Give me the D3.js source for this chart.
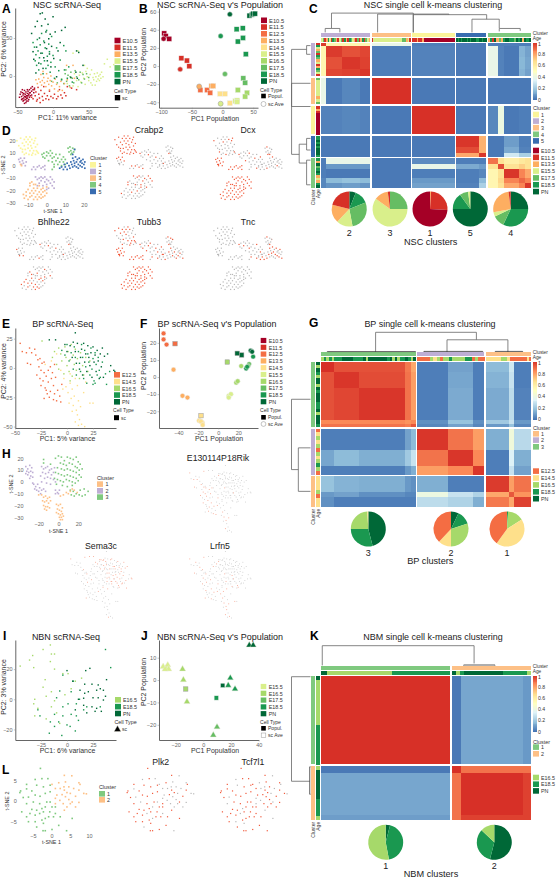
<!DOCTYPE html>
<html><head><meta charset="utf-8">
<style>body{margin:0;background:#fff}text{font-family:"Liberation Sans",Arial,sans-serif;fill:#222}</style>
<script src="https://cdn.jsdelivr.net/npm/d3@7/dist/d3.min.js"></script></head><body><div id="c"></div>
<script>
// ---------- colours and labels ----------
const ageCol={a:"#a50026",b:"#d73027",c:"#f46d43",d:"#fdae61",e:"#fee08b",f:"#d9ef8b",g:"#a6d96a",h:"#66bd63",i:"#1a9850",p:"#006837"};
const ageName={a:"E10.5",b:"E11.5",c:"E12.5",d:"E13.5",e:"E14.5",f:"E15.5",g:"E16.5",h:"E17.5",i:"E18.5",p:"PN"};
const Y="#fbf49a",P="#beaed4",O="#fdc086",G="#7fc97f",B="#386cb0";
// ---------- panel A: PCA of NSC cells, flat x,y lists ----------
const A_a=[-46,-24,-44,-27,-43,-22,-42,-25,-41,-29,-41,-23,-40,-27,-39,-31,-39,-24,-38,-28,-38,-21,-37,-26,-37,-33,-36,-23,-36,-29,-35,-26,-35,-20,-34,-31,-34,-24,-33,-28,-33,-18,-32,-22,-32,-26,-31,-16,-30,-20,-30,-25,-29,-14,-28,-18,-44,-31,-42,-33,-40,-36,-47,-28,-38,-35,-45,-21,-36,-18,-27,-22,-26,-16,-40,-19,-43,-18,-41,-32,-37,-30,-35,-33,-43,-30,-39,-27,-36,-26,-33,-22];
const A_b=[-28,-30,-25,-26,-24,-21,-22,-31,-20,-24,-19,-29,-17,-19,-15,-27,-14,-32,-12,-23,-10,-30,-8,-26,-6,-31,-5,-20,-3,-27,0,-29,2,-24,5,-30,7,-27,9,-18,11,-25,13,-29,16,-22,18,-26,20,-14,-13,-14,-26,-18,-21,-15,-18,-35,26,-16,33,-18,-30,-28,-23,-33];
const A_d=[-24,-5,-22,-10,-20,-4,-18,-8,-17,2,-16,-12,-15,-6,-14,6,-13,-2,-12,-9,-10,-14,-9,3,-8,-7,-7,-3,-6,-11,-5,-18,-4,-6,-3,0,-2,-13,0,-8,2,-17,3,-4,5,-11,7,-20,9,-14,11,-7,13,-19,16,-10,20,-5,24,-15,28,14,30,-3,19,14];
const A_f=[20,-10,25,-2,28,-13,30,3,33,-6,35,-14,37,1,39,-8,41,4,43,-3,45,-11,46,6,48,-1,50,-6,52,2,53,-9,54,8,56,-2,57,-5,58,3,59,-12,60,-1,61,-7,62,4,63,-4,64,0,65,-6,66,2,67,-3,68,5,70,-1,55,-12,48,10,44,14,72,16,80,12,85,15,76,22,35,33,28,30];
const A_h=[12,-4,15,-10,17,3,19,-7,21,1,23,-13,25,5,27,-3,29,-9,31,7,33,-1,36,-5,38,5,40,-9,42,2,44,-4,47,3,50,-2,18,8,24,-1,-2,-7,6,-9];
const A_i=[-28,44,-26,38,-25,20,-24,28,-23,14,-22,48,-21,33,-20,8,-19,24,-18,41,-17,16,-16,56,-15,30,-14,3,-13,46,-12,20,-11,37,-10,10,-9,60,-8,26,-7,14,-6,42,-5,32,-4,5,-3,18,-2,52,0,27,2,-3,3,12,5,37,8,7,10,21,12,-5,15,40,16,8,18,33,20,-3,22,12,27,-8];
const A_p=[-30,56,-28,32,-27,22,-25,65,-24,4,-23,38,-22,72,-20,17,-19,50,-18,82,-17,30,-16,66,-15,83,-14,10,-13,24,-12,44,-11,75,-10,58,-9,36,-8,20,-7,68,-6,49,-5,29,-4,55,-3,12,-2,39,0,78,1,23,3,58,5,-1,7,33,10,44,12,60,17,64,25,-2,32,5,33,33,36,31,34,-3,42,14];
// ---------- panel B: population (squares) and sc average (circles) ----------
const B_sq={a:[-95,36,-92.6,33,-86.7,30],b:[-67,8.5,-58,6,-54,-0.3],c:[-36,-26.5,-25,-26.5,-20,-29.5],d:[-18,-22,-15,-22],e:[-4,-30.6,4,-30.6,12,-41],f:[21,-38.7,24,-38,24,-39.4],g:[25,-26.5,40,-29.5,37,-33.7],h:[34,-13.6,37,-18.4],i:[23,40.5,33,41.6,25,27,33.4,31,38,13],p:[44,55.6,48,56.7,50,57.8,53,57.8]};
const B_ci={a:[-96,30],b:[-69,-3.7],d:[-38,-22.5],f:[-3,-41.6],h:[4,-8.8],i:[-3,33],p:[12,57]};
// ---------- panel D: t-SNE of NSC by cluster ----------
const D_1=[-16,20,-15,16,-14,22,-14,14,-13,18,-13,11,-12,21,-12,16,-11.5,13,-11,23,-11,19,-11,10,-10,17,-10,14,-10,21,-9.5,9,-9,23,-9,19,-9,12,-8.5,16,-8,21,-8,14,-7.5,10,-7,18,-7,12,-6.5,20,-6,15,-6,9,-5.5,12,-5,17,-5,11,-4.5,10,-12,9,-13,13,-8,8.5,-6,22];
const D_2=[-15,5,-14.5,3,-14,6,-13.5,1,-13,4,-12.5,2,-12,6,-11.5,0,-11,3,-8,-3,-7,-1,-6,-3,-5,-1,-4,0,-3,-2,-2,-1,-1,-3,-1,0,-6,-9,-5,-11,-4,-10,-4,-14,-3,-9,-3,-12,-2,-16,-2,-10,-1,-13,-1,-9,0,-11,0,-15,1,-18,1,-12,2,-9,2,-14,3,-11,3,-16,4,-13,4,-18,-5,-16,0,-19];
const D_3=[-12.5,-23,-12,-26,-11,-21,-11,-24,-10,-19,-10,-27,-9,-22,-9,-16,-9,-25,-8,-20,-8,-13,-8,-24,-7,-18,-7,-27,-7,-22,-6,-15,-6,-25,-6,-20,-5,-23,-5,-18,-5,-27,-4,-21,-4,-25,-4,-16,-3,-19,-3,-23,-3,-26,-2,-21,-2,-18,-1,-24,-1,-20,0,-22,0,-17,-14,1,-13.5,0,-9,-14,-7,-15,-2,-25];
const D_4=[-2.5,9,-2,7,-1.5,10,-1,6,0,11,0,8,1,4,1,10,2,12,2,8,3,6,3,3,3,10,4,7,4,1,4,-1,5,9,5,4,6,6,6,1,7,9,7,3,8,5,8,0,9,7,9,3,10,5,10,1,11.5,14,12,11,12.5,15,13,12,13.5,10,14,14,14.5,11,15,13,13,9,3,-3];
const D_5=[7,-2,8,-1,9,-3,9.5,1,10,-1,11,2,11,-3,12,0,12.5,-2,13,3,13.5,1,14,-1,14,6,14.5,4,15,2,15,0,15.5,7,16,-1,16,3,16.5,5,17,1,17,-2,17.5,6,18,3,18,0,18.5,4,19,-1,19,2,19.5,5,20,1,20.5,-2,20.5,3,14,9,15,13];
const crabp2Every=[1,2,7,9,0], dcxEvery=[5,1,1,6,8], bhlhe22Every=[0,7,2,9,0], tubb3Every=[2,1,1,3,3], tncEvery=[0,0,0,5,2];
// ---------- panel E: PCA of BP cells ----------
const E_c=[-45,21,-43,14,-39,13,-36,17,-34,13,-31,16,-38,4,-35,3,-28,7,-26,8,-24,4,-27,1,-25,-2,-22,5,-29,-6,-26,-9,-22,-4,-23,-11,-20,-7,-18,-2,-25,-15,-21,-17,-18,-12,-15,-9,-13,-15,-19,-22,-16,-20,-22,-26,-17,-25,-12,-22,-9,-19,-7,-24,-10,-28,-13,-27,-6,-29,-20,-19,-14,-4,-11,-8,-16,1,-30,11,-12,3,-5,-14];
const E_e=[-21,3,-15,6,-10,12,-6,-2,-3,-9,-1,-16,1,-21,3,-13,4,-26,2,-30,5,-18,7,-24,6,-32,8,-9,10,-15,11,-28,9,-36,5,-37,10,-40,12,-44,8,-46,11,-49,14,-48,17,-50,13,-33,16,-21,22,-30,25,-30,-4,-18,3,-5,18,-12];
const E_g=[-24,23,-14,9,-12,14,-10,3,-8,-1,-8,17,-6,12,-5,6,-3,-5,-2,18,-1,9,0,2,1,14,2,-3,3,7,4,20,5,-7,6,11,7,3,8,16,9,-2,10,8,12,-9,13,13,15,2,16,-6,18,9,20,-3,22,6,3,-11];
const E_i=[-5,15,-2,11,0,20,2,6,4,13,6,-1,7,18,8,9,9,-6,11,14,12,4,13,-3,14,20,15,9,16,-9,17,15,18,1,19,-13,20,12,21,5,22,-6,23,17,24,-1,25,8,26,-11,27,13,28,3,29,-6,30,9,31,-2,32,-8,25,-14,27,-13,34,5,37,-5,41,-3,38,-14];
const E_p=[-2,20,0,14,3,19,5,9,6,22,8,14,9,4,10,21,12,-1,13,9,14,16,15,-6,16,21,17,5,18,12,19,-3,20,19,21,9,22,2,23,13,24,-8,25,18,26,5,27,11,28,-3,29,15,30,6,31,-9,32,12,33,1,34,17,35,-8,36,10,39,12,42,2,45,-2,46,-3,8,30,-11,24,-17,24];
// ---------- panel F ----------
const F_ci={c:[-55,25.5,-55,22,-52,19],d:[-45,4.3,-36,-11,-31,-12],e:[-18.4,-25.7,-16,-26.7,-19.4,-25.5,-17.4,-26,-15.7,-28],f:[10.5,-11,12.7,-10,10.5,-12],g:[23,6.4,18,-3.3,19.5,-2.4],h:[31,7.6,30,6.4],i:[28,5,29,6,35,11.9],p:[32.5,15.4,34,14.8]};
const F_sq={c:[-43.5,19.5],e:[-17.4,-22.6],g:[9,8.8],p:[19,13.9,23.5,12.9]};
// ---------- panel H: t-SNE of BP by cluster ----------
const H_3=[-3,20,0,22,3,21,6,18,9,21,12,20,15,19,18,21,20,17,22,15,2,16,5,15,8,14,11,16,14,15,17,13,19,12,21,10,24,11,-1,12,3,11,6,10,9,11,12,10,15,9,18,8,21,6,23,4,-3,8,0,7,3,6,6,5,9,6,12,5,15,4,18,3,20,1,-4,3,-1,2,2,1,5,0,8,2,11,1,14,0,17,-1,-2,-2,4,-3,9,-4,14,-3,12,-7,15,-8,18,-10,21,-11,24,-12,27,-11,30,-8,16,-12,13,-11,26,-6,22,-7,-15,19,-15,16,-8,15];
const H_2=[-33,13,-31,11,-29,14,-27,12,-32,9,-30,8,-28,9,-26,8,-31,6,-28,5,-26,4,-29,3,-33,7,-17,13,-15,11,-13,12,-11,13,-9,10,-7,11,-16,8,-13,7,-10,8,-7,6,-5,8,-4,12,-18,5,-14,3,-11,4,-8,3,-5,2,-3,0,-17,0,-12,-1,-8,-2,-25,-2,-23,-4,-21,-2,-19,-5,-24,-6,-22,-7,-20,-8,-17,-7,-18,-10,-15,-6,-3,-7,-1,-9,1,-7,0,-10,-3,-10,-26,-1,-13,-8];
const H_1=[-17,-11,-15,-13,-13,-12,-11,-14,-9,-13,-16,-16,-14,-17,-12,-16,-10,-18,-8,-16,-15,-20,-13,-21,-11,-21,-9,-22,-14,-23,-12,-24,-2,-19,0,-20,2,-19,4,-22,-1,-23,1,-24,3,-25,-2,-26,0,-27,2,-28,4,-27,1,-30,3,-30,5,-29,2,-32,4,-32,8,-9,10,-10,12,-8,14,-6,16,-7,19,-9,5,-11,2,-12,-20,-11];
const rikEvery={c:2,e:4,g:9,i:0,p:0}, sema3cEvery={c:9,e:7,g:5,i:2,p:1.5}, lrfn5Every={c:3,e:2,g:9,i:8,p:0};
// ---------- panel I: PCA of NBN cells ----------
const I_g=[-45,22,-36,26,-33,29,-32,21,-23,33,-16,36,-12,30,-15,30,-16,25,-12,20,-4,17,1,17,-21,13,-31,0,-32,-3,-28,-6,-23,8,-20,2,-15,5,-31,-11,-20,-13,-12,-1,-10,-9,-2,3,-7,-16,8,12,14,14,4,7,-15,-5];
const I_i=[-28,-7,-26,-11,-16,-15,-17,-22.5,-12,-18,-5,-24,-8,-15,0,-17,3,-18,8,-21,-4,-11,4,-10,11,-14,9,-11,-12,-10,-4,-5,1,-3,-7,5.5,4,5,6,12,-10,1,9,-3,12,0,16,-7,19,-5,-4,16,37,33,42,21,32,-5];
const I_p=[18,19,22,20.5,17,10,24,10,30,9.5,38,13,12.5,6,20.5,5,28.5,6,32,7,16,0.7,25,1,30,1,35,-0.5,11,0,16,-4,24,-5,28.5,-6,33,-8,19,-9,27,-8,8,-7,0,19,35,6,5.5,12,17,4,37,2];
// ---------- panel J ----------
const J_tri={f:[-29,6,-27,5.2,-25.7,6.7,-25,4.9,-27.6,4.8],g:[-15,4.9,-14.4,0.1,-11.8,-9.7],h:[9.9,-21,7.2,-24.6],i:[19.5,0.9,18,-2.4,22.9,-4],p:[33.2,15.6,36,15.6]};
const J_sq={g:[-12.7,-4],i:[9.4,-8],p:[14,-2.4]};
// ---------- panel L: t-SNE of NBN by cluster ----------
const L_1=[-3,8,-4.4,5.3,-6.7,4.1,-8.3,2.5,-8.5,2.1,-6.7,3,-5.3,2.5,-4,3.9,-2.6,5.5,-1,5.5,-2.2,3.5,-0.4,3.9,-4.4,1.5,-6.2,1,-7.6,0.9,-3.1,1.2,-1.7,1.9,-0.4,2.3,-4.9,-0.2,-6.7,-0.6,-3.2,-0.6,-1.3,-0.2,-0.4,-0.2,-5.3,-2,-4,-2.2,-2.6,-1.8,-1.7,-1.4,0.1,-1.4,-8,-2.6,-5.8,-3,-4.4,-3.4,-3.2,-3,-2.2,-2.6,-0.5,-2.6,1,-1.4,1,-3,-6.2,-5,-4.4,-5,-2.6,-4.6,-1.7,-4.2,-0.8,-3.8,0.5,-3.8,-6.7,-3.8,-2.2,-5.4,-4,-6.3,-1.7,-7.2,-2.3,-7.2,0.1,-6.9,4,-7.2,5.5,-4.2,2.3,-3.8,1.9,-5.9];
const L_2=[3.4,6.3,5.4,6.2,0.1,4.1,1.9,4.5,3.7,4.7,7.3,4.5,7.6,4.1,1,3.1,2.3,3.1,3.4,2.7,4.6,3.5,5.9,3.1,7.3,2.7,8.6,1.9,9.3,1.8,4.1,2.1,5,1.9,1.4,1.5,2.8,1.6,1,0.7,3.7,1.1,6.4,1.2,2.2,0.2,4.6,0.4,5.5,-0.2,3.1,-0.6,7.3,-0.3,1,-0.6,4.1,-1.4,6.4,-1.4,3.4,-2.2,5,-0.6,3.3,3.5];
const plk2Every=[1.3,3], tcf7l1Every=[1.2,1.6];
// ---------- heatmaps: column/row block sizes, values, age strips, dendrogram merges ----------
const C_cols=[[14,48,55,30],[117],[128],[69,21],[29,19,44,20,16]];
const C_rows=[[10,32,38,20],[79],[86],[32,18,12],[18,15,27,13,15]];
const C_vals=[
[.98,.55,.55,.55,.38,.02,.01,.01,.02,.02,.02,.02,.02],
[.55,.98,.94,.96,.02,.03,.01,.01,.38,.03,.01,.14,.1],
[.55,.94,.99,.97,.02,.03,.01,.01,.38,.03,.01,.15,.11],
[.55,.96,.97,.99,.02,.03,.01,.01,.38,.03,.01,.14,.1],
[.38,.01,.04,.01,1,.01,.01,.01,.01,.01,.01,.01,.01],
[.03,.03,.04,.03,.01,1,.01,.01,.04,.4,.01,.02,.02],
[.01,.01,.01,.01,.01,.01,.99,.76,.01,.01,.09,.02,.02],
[.01,.01,.01,.01,.01,.01,.95,.76,.01,.01,.12,.03,.03],
[.01,.01,.01,.01,.01,.01,.78,.99,.01,.01,.3,.22,.22],
[.02,.38,.38,.38,.01,.05,.02,.02,.88,.65,.58,.62,.65],
[.02,.08,.08,.08,.01,.38,.12,.09,.65,.95,.65,.7,.65],
[.02,.01,.01,.01,.01,.02,.02,.04,.55,.65,.99,.85,.78],
[.04,.16,.18,.16,.01,.08,.02,.16,.55,.68,.85,.9,.85],
[.04,.07,.09,.07,.01,.1,.03,.22,.55,.65,.78,.85,.99]];
const C_colCl=[P,O,Y,B,G], C_rowCl=[P,O,Y,B,G];
const C_colAge=["fhbdifbihdbfhbidbihfdbhbdibhfd","bfffffffffffffffffffhhhdfb","bbbdbbbdaaaaaaaaaaaaaaaaaaaaa","pipipppipipppiippipp","dibpdhdippiihpipdpip"];
const C_rowAge=["bifdhbihdfbdihfb","hffffffdfh","bbdbaaaaaaaaaaa","iipipipppi","idphipidfdip"];
const C_topD=[[.05,.44,.98,.22,0],[.27,.61,.93,0,.9],[.44,.79,.9,0,.67],[.72,.85,.67,0,.22],[.02,.09,.2,0,0],[.85,.95,.2,.05,.08]];
const C_leftD=[[.046,.77,.97,.2,.58],[.28,.44,.97,0,0],[.70,.83,.58,.2,.2],[.02,.08,.2,0,0],[.66,.74,.2,0,0],[.81,.98,.2,0,0]];
const C_pies=[{name:"2",v:{p:6,i:13,h:28,f:15,d:17,b:21}},{name:"3",v:{b:2,h:25,f:60,d:13}},{name:"1",v:{a:74,b:25,d:1}},{name:"5",v:{p:75,i:15,h:8,f:2}},{name:"4",v:{p:25,i:32,h:11,f:4,d:26,b:2}}];

const G_cols=[[40,74,138,17,15],[93,73,35],[70,14,51]];
const G_rows=[[28,50,95,12,9],[64,48,26],[46,15,32]];
const G_vals=[
[1,.94,.94,.87,.78,.02,.1,.02,.16,.3,.02],
[.94,.99,.95,.88,.8,.02,.11,.02,.14,.28,.02],
[.94,.96,.99,.88,.8,.02,.12,.02,.12,.26,.03],
[.84,.84,.84,.82,.84,.06,.18,.06,.2,.28,.08],
[.88,.88,.88,.86,.93,.04,.1,.04,.08,.18,.04],
[.02,.02,.02,.1,.16,.99,.88,.8,.13,.42,.25],
[.11,.16,.13,.2,.28,.88,.99,.84,.02,.33,.13],
[.02,.02,.02,.08,.13,.8,.84,.99,.02,.28,.1],
[.18,.14,.13,.08,.06,.13,.02,.02,.98,.8,.88],
[.08,.1,.06,.04,.04,.4,.28,.23,.78,.93,.82],
[.06,.02,.02,.02,.02,.26,.23,.13,.87,.78,.97]];
const G_colCl=[G,P,O], G_rowCl=[G,P,O];
const G_colAge=["gigigiiippppiiiipgpppppppipgpgiipigp","ccccgegcggiggggiicgcc","eeeeeeegggeccccccccec"];
const G_rowAge=["pgpigppgpipppiipgpppi","cegegcgegigc","eeegcee"];
const G_topD=[[.26,.74,1,0,.62],[.6,.89,.62,0,0],[.03,.45,.02,0,0],[.49,.77,.03,0,0],[.83,.96,.03,0,0]];
const G_leftD=[[.255,.74,1,0,.64],[.59,.89,.64,0,0]];
const G_pies=[{name:"3",v:{p:46,i:29,g:24,e:1}},{name:"2",v:{p:7,i:13,g:30,e:12,c:38}},{name:"1",v:{i:1,g:15,e:44,c:40}}];

const K_cols=[[388],[28,187,22]];
const K_rows=[[266],[20,127,16]];
const K_vals=[[1,.01,.11,.08],[.01,1,.88,.88],[.11,.88,1,.97],[.09,.88,.97,.97]];
const K_colCl=[G,O], K_rowCl=[G,O];
const K_colAge=["pggggggggggiiiiiiiii","pgippppppppppiiiiiig"];
const K_rowAge=["pggggggggggiiiiiiiii","gpppppppiiiig"];
const K_topD=[[.006,.73,1,0,.1],[.68,.83,.02,0,0]];
const K_leftD=[[.007,.73,1,0,.04],[.63,.82,.04,0,0]];
const K_pies=[{name:"1",v:{p:4,i:43,g:53}},{name:"2",v:{p:54,i:33,g:13}}];

// ---------- helpers ----------
const svg=d3.select("#c").append("svg").attr("width",557).attr("height",878);
const pairs=f=>d3.range(0,f.length,2).map(i=>[f[i],f[i+1]]);
function txt(x,y,s,size,o={}){const fs=size<=8.5?size*1.12:size;const t=svg.append("text").attr("x",x).attr("y",y).attr("font-size",fs).attr("text-anchor",o.anchor||"start").text(s);
  if(o.bold)t.attr("font-weight","bold");if(o.fill)t.style("fill",o.fill);if(o.rot)t.attr("transform",`rotate(${o.rot} ${x} ${y})`);return t;}
function axes(sx,sy,xt,yt,line=true,off=0){
  const gx=svg.append("g").attr("transform",`translate(0,${sy.range()[0]+off})`).call(d3.axisBottom(sx).tickValues(xt).tickSize(line?1.5:0).tickPadding(1.3).tickSizeOuter(0));
  const gy=svg.append("g").attr("transform",`translate(${sx.range()[0]},0)`).call(d3.axisLeft(sy).tickValues(yt).tickSize(line?1.5:0).tickPadding(1.3).tickSizeOuter(0));
  [gx,gy].forEach(g=>{g.selectAll("text").attr("font-size",5.5).style("fill","#666");g.selectAll(".tick line").attr("stroke","#888").attr("stroke-width",.5);
    g.select(".domain").attr("stroke",line?"#555":"none").attr("stroke-width",.9);});
}
function squares(pts,sx,sy,fill,s=1.6,o={}){svg.append("g").selectAll("rect").data(pts).join("rect").attr("x",d=>sx(d[0])-s/2).attr("y",d=>sy(d[1])-s/2).attr("width",s).attr("height",s).attr("fill",d=>typeof fill==="function"?fill(d):fill).attr("stroke",o.stroke||"none").attr("stroke-width",o.sw||0);}
function circles(pts,sx,sy,fill,r=2.5,stroke="#ddd"){svg.append("g").selectAll("circle").data(pts).join("circle").attr("cx",d=>sx(d[0])).attr("cy",d=>sy(d[1])).attr("r",r).attr("fill",fill).attr("stroke",stroke).attr("stroke-width",.5);}
function tris(pts,sx,sy,fill,sz=20){svg.append("g").selectAll("path").data(pts).join("path").attr("d",d3.symbol(d3.symbolTriangle,sz)).attr("transform",d=>`translate(${sx(d[0])},${sy(d[1])})`).attr("fill",fill).attr("stroke","#e8e8d8").attr("stroke-width",.4);}
function swatches(x,ys,cols,labs,size=5.4,w=6,tx=8.5){ys.forEach((y,i)=>{svg.append("rect").attr("x",x).attr("y",y-w/2).attr("width",w).attr("height",w-.4).attr("fill",cols[i]);txt(x+tx,y+2,labs[i],size,{fill:"#333"});});}
const seq=(a,n,d)=>d3.range(n).map(i=>a+i*d);
function ageLegend(x,y0,d,keys,o={}){swatches(x,seq(y0,keys.length,d),keys.map(k=>ageCol[k]),keys.map(k=>ageName[k]),o.size||5.2,o.w||6,o.tx||8.5);}
const heatCol=d3.scaleLinear().domain([0,1/6,2/6,3/6,4/6,5/6,1]).range(["#4575b4","#91bfdb","#e0f3f8","#ffffbf","#fee090","#fc8d59","#d73027"]);

function heatmap(c){
  const layout=(blocks,a,b,gap)=>{const tot=d3.sum(blocks.flat());const sc=d3.scaleLinear([0,tot],[a,b-gap*(blocks.length-1)]);let u=0,out=[];
    blocks.forEach((bl,bi)=>{bl.forEach(s=>{out.push({a:sc(u)+bi*gap,b:sc(u+s)+bi*gap,block:bi});u+=s;});});return out;};
  const cols=layout(c.cols,c.x0,c.x1,1.4), rows=layout(c.rows,c.y0,c.y1,1.5);
  const cells=svg.append("g").attr("shape-rendering","crispEdges");
  rows.forEach((r,i)=>cols.forEach((k,j)=>cells.append("rect").attr("x",k.a).attr("y",r.a).attr("width",k.b-k.a).attr("height",r.b-r.a).attr("fill",heatCol(c.vals[i][j]))));
  const ext=(arr,bi)=>{const f=arr.filter(d=>d.block===bi);return [f[0].a,f[f.length-1].b];};
  const strips=svg.append("g").attr("shape-rendering","crispEdges");
  c.cols.forEach((_,bi)=>{const [a,b]=ext(cols,bi);
    strips.append("rect").attr("x",a).attr("y",c.topCl[0]).attr("width",b-a).attr("height",c.topCl[1]).attr("fill",c.colCl[bi]);
    const s=c.colAge[bi];const w=(b-a)/s.length;[...s].forEach((ch,i)=>strips.append("rect").attr("x",a+i*w).attr("y",c.topAge[0]).attr("width",w+.1).attr("height",c.topAge[1]).attr("fill",ageCol[ch]));});
  c.rows.forEach((_,bi)=>{const [a,b]=ext(rows,bi);
    strips.append("rect").attr("x",311).attr("y",a).attr("width",4.1).attr("height",b-a).attr("fill",c.rowCl[bi]);
    const s=c.rowAge[bi];const w=(b-a)/s.length;[...s].forEach((ch,i)=>strips.append("rect").attr("x",316).attr("y",a+i*w).attr("width",4).attr("height",w+.1).attr("fill",ageCol[ch]));});
  // dendrograms
  const fx=d3.scaleLinear([0,1],[c.x0,c.x1]), fy=d3.scaleLinear([0,1],[c.y0,c.y1]);
  const hTop=d3.scaleLinear([0,1],[c.topCl[0]-.3,c.topH]), hLeft=d3.scaleLinear([0,1],[310.5,c.leftH]);
  const ln=d3.line();
  c.topD.forEach(s=>svg.append("path").attr("d",ln([[fx(s[0]),hTop(s[3])],[fx(s[0]),hTop(s[2])],[fx(s[1]),hTop(s[2])],[fx(s[1]),hTop(s[4])]])).attr("fill","none").attr("stroke",s[2]<.05?"#333":"#666").attr("stroke-width",.8));
  c.leftD.forEach(s=>svg.append("path").attr("d",ln([[hLeft(s[3]),fy(s[0])],[hLeft(s[2]),fy(s[0])],[hLeft(s[2]),fy(s[1])],[hLeft(s[4]),fy(s[1])]])).attr("fill","none").attr("stroke",s[2]<.05?"#333":"#666").attr("stroke-width",.8));
  // labels beside strips
  txt(532.7,c.topCl[0]+2,"Cluster",4.3,{fill:"#333"});txt(532.7,c.topAge[0]+2.4,"Age",4.3,{fill:"#333"});
  txt(315,c.y1+1.5,"Cluster",4.5,{rot:-90,anchor:"end",fill:"#333"});txt(320,c.y1+1.5,"Age",4.5,{rot:-90,anchor:"end",fill:"#333"});
  // colour bar
  const barY=d3.scaleLinear([0,1],[c.barB,c.y0]);
  const bar=svg.append("g").attr("shape-rendering","crispEdges");
  d3.range(0,60).forEach(i=>{const v=i/60;bar.append("rect").attr("x",533.3).attr("y",barY(v+1/60)).attr("width",3.8).attr("height",Math.abs(barY(0)-barY(1/60))+.2).attr("fill",heatCol(v));});
  [0,.2,.4,.6,.8,1].forEach(v=>txt(538,barY(v)+(v===1?2.9:1.8),String(v),4.6,{fill:"#333"}));
  // pies
  const keys=["p","i","h","g","f","e","d","c","b","a"];
  const pie=d3.pie().sort(null).value(d=>d[1]);const arc=d3.arc().innerRadius(0).outerRadius(17.5);
  c.pies.forEach((p,i)=>{const g=svg.append("g").attr("transform",`translate(${c.pieX[i]},${c.pieY})`);
    const arr=keys.filter(k=>p.v[k]).map(k=>[k,p.v[k]]);
    g.selectAll("path").data(pie(arr)).join("path").attr("d",arc).attr("fill",d=>ageCol[d.data[0]]);
    txt(c.pieX[i],c.pieY+27,p.name,8,{anchor:"middle"});});
  txt(c.capX,c.capY,c.cap,8.2,{anchor:"middle"});
  txt(c.titleX,c.titleY,c.title,8,{anchor:"middle"});
}

// ---------- panel letters ----------
[["A",2,12.7],["B",139,12.7],["C",309,13.3],["D",2,135],["E",2,327.7],["F",140,327.7],["G",309,326.7],["H",2,458],["I",3,640],["J",141,640],["K",310,640],["L",2,774]]
 .forEach(d=>txt(d[1],d[2],d[0],12,{bold:true,fill:"#000"}));

// ---------- A ----------
{const x=d3.scaleLinear([-53,91],[15.2,118]),y=d3.scaleLinear([-40.8,89.5],[107,8]);
 txt(67,8,"NSC scRNA-Seq",8,{anchor:"middle"});
 axes(x,y,[-50,0,50],[0,50]);
 [[A_f,"f"],[A_h,"h"],[A_d,"d"],[A_b,"b"],[A_i,"i"],[A_p,"p"],[A_a,"a"]].forEach(s=>squares(pairs(s[0]),x,y,ageCol[s[1]],1.5));
 txt(67.5,120,"PC1: 11% variance",6.2,{anchor:"middle",fill:"#333"});
 txt(6,49,"PC2: 6% variance",6.2,{anchor:"middle",rot:-90,fill:"#333"});
 ageLegend(114.5,40.7,6.85,["a","b","d","f","h","i","p"],{tx:8});
 txt(114,92.5,"Cell Type",4.8,{fill:"#333"});squares([[0,0]],()=>117.5,()=>97.7,"#000",5.4);txt(122,99.6,"sc",4.8,{fill:"#333"});}
// ---------- B ----------
{const x=d3.scaleLinear([-103.5,57.9],[159,258]),y=d3.scaleLinear([-46,64],[107.7,8]);
 txt(220,8,"NSC scRNA-Seq v's Population",8,{anchor:"middle"});
 axes(x,y,[-100,-50,0,50],[-40,-20,0,20,40,60]);
 Object.keys(B_sq).forEach(k=>squares(pairs(B_sq[k]),x,y,ageCol[k],5,{stroke:"#ececec",sw:.4}));
 Object.keys(B_ci).forEach(k=>circles(pairs(B_ci[k]),x,y,ageCol[k],2.5,k==="f"||k==="d"?"#999":"#ddd"));
 txt(215,120.5,"PC1 Population",6.2,{anchor:"middle",fill:"#333"});
 txt(146,52,"PC2 Population",6.2,{anchor:"middle",rot:-90,fill:"#333"});
 ageLegend(261,20.5,6.75,["a","b","c","d","e","f","g","h","i","p"],{tx:8});
 txt(260,92,"Cell Type",4.8,{fill:"#333"});squares([[0,0]],()=>263.5,()=>96,"#000",4.6);txt(268,98,"Popul.",4.8,{fill:"#333"});
 circles([[0,0]],()=>263.5,()=>104,"#fff",2.5,"#888");txt(268,106,"sc Ave",4.8,{fill:"#333"});}
// ---------- D ----------
{const groups=[D_1,D_2,D_3,D_4,D_5].map(pairs), cols=[Y,P,O,G,B];
 const x=d3.scaleLinear([-16,22],[16.9,87.6]),y=d3.scaleLinear([-30,24],[203.2,135.7]);
 axes(x,y,[-10,0,10,20],[-30,-20,-10,0,10,20],false,-1.7);
 groups.forEach((g,i)=>squares(g,x,y,cols[i],1.7));
 txt(53,213,"t-SNE 1",4.8,{anchor:"middle",fill:"#333"});txt(5,165,"t-SNE 2",4.8,{anchor:"middle",rot:-90,fill:"#333"});
 txt(90,160,"Cluster",4.8,{fill:"#333"});swatches(90,seq(165,5,6.65),cols,["1","2","3","4","5"],4.8,6,8.5);
 const mini=(title,tx,ty,dx,dy,every)=>{txt(tx,ty,title,7.8,{anchor:"middle"});
   groups.forEach((g,i)=>{const n=every[i];
     const cg=g.map((d,j)=>({d,red:n>0&&Math.floor(j%n)===0}));
     squares(cg.map(o=>o.d),v=>x(v)+dx,v=>y(v)+dy,p=>cg.find(o=>o.d===p).red?"#f15a3c":"#b8b8b8",1.2);});};
 mini("Crabp2",149,132.5,98,-1,crabp2Every);mini("Dcx",248,132.5,197,0,dcxEvery);
 mini("Bhlhe22",53.7,224.5,-2,90,bhlhe22Every);mini("Tubb3",149,224.5,98,90,tubb3Every);mini("Tnc",248,224.5,197,90,tncEvery);}
// ---------- E ----------
const E_sets=[["c",E_c],["e",E_e],["g",E_g],["i",E_i],["p",E_p]];
{const x=d3.scaleLinear([-49.7,47.1],[15.3,116]),y=d3.scaleLinear([-51.2,34.1],[428,328]);
 txt(62.7,327,"BP scRNA-Seq",8,{anchor:"middle"});
 axes(x,y,[-50,-25,0,25],[-50,-25,0,25]);
 E_sets.forEach(s=>squares(pairs(s[1]),x,y,ageCol[s[0]],1.4));
 txt(67.5,440.5,"PC1: 5% variance",6.2,{anchor:"middle",fill:"#333"});
 txt(6,371,"PC2: 4% variance",6.2,{anchor:"middle",rot:-90,fill:"#333"});
 ageLegend(114,375,6.75,["c","e","g","i","p"],{tx:8,size:4.8});
 txt(113,412,"Cell Type",4.5,{fill:"#333"});squares([[0,0]],()=>116.5,()=>417.7,"#000",5);txt(121,419.5,"sc",4.3,{fill:"#333"});}
// ---------- F ----------
{const x=d3.scaleLinear([-59.6,39.9],[159,258]),y=d3.scaleLinear([-29.8,28.7],[428,328]);
 txt(217,327,"BP scRNA-Seq v's Population",8,{anchor:"middle"});
 axes(x,y,[-40,-20,0,20],[-20,-10,0,10,20]);
 Object.keys(F_ci).forEach(k=>circles(pairs(F_ci[k]),x,y,ageCol[k],2.4,"#eee"));
 Object.keys(F_sq).forEach(k=>squares(pairs(F_sq[k]),x,y,ageCol[k],4.4,{stroke:"#999",sw:.5}));
 txt(219,440.5,"PC1 Population",6.2,{anchor:"middle",fill:"#333"});
 txt(146,366,"PC2 Population",6.2,{anchor:"middle",rot:-90,fill:"#333"});
 ageLegend(260.7,340.7,6.8,["a","b","c","d","e","f","g","h","i","p"],{tx:8,size:4.8,w:5.6});
 txt(260,411.5,"Cell Type",4.5,{fill:"#333"});squares([[0,0]],()=>263.5,()=>417.3,"#000",4.6);txt(268,419,"Popul.",4.5,{fill:"#333"});
 circles([[0,0]],()=>263.5,()=>424,"#fff",2.4,"#888");txt(268,425.8,"sc Ave",4.5,{fill:"#333"});}
// ---------- G ----------
heatmap({cols:G_cols,rows:G_rows,vals:G_vals,x0:321,x1:531,y0:362.3,y1:507.3,topCl:[352.3,3.8],topAge:[357,4.3],colCl:G_colCl,rowCl:G_rowCl,colAge:G_colAge,rowAge:G_rowAge,
 topD:G_topD,leftD:G_leftD,topH:332.3,leftH:291.5,barB:419.3,pies:G_pies,pieX:[368.3,451,507],pieY:529,cap:"BP clusters",capX:430.3,capY:564,title:"BP single cell k-means clustering",titleX:430,titleY:327});
txt(533,429.5,"Cluster",4.8,{fill:"#333"});swatches(533,[434,440.3,447],[O,P,G],["1","2","3"],4.8,6,8);
ageLegend(533,471.3,6.9,["c","e","g","i","p"],{tx:8,size:4.8});
// ---------- C ----------
heatmap({cols:C_cols,rows:C_rows,vals:C_vals,x0:321,x1:530.7,y0:42.7,y1:187.7,topCl:[32.7,4],topAge:[37.7,4],colCl:C_colCl,rowCl:C_rowCl,colAge:C_colAge,rowAge:C_rowAge,
 topD:C_topD,leftD:C_leftD,topH:12.7,leftH:291,barB:100,pies:C_pies,pieX:[349.3,390,430,470.3,510.7],pieY:209,cap:"NSC clusters",capX:430.7,capY:245,title:"NSC single cell k-means clustering",titleX:433,titleY:8});
txt(533,110,"Cluster",4.8,{fill:"#333"});swatches(533,seq(114.7,5,6.6),[Y,P,O,G,B],["1","2","3","4","5"],4.8,6,8);
ageLegend(533,150.7,6.85,["a","b","d","f","h","i","p"],{tx:8,size:4.8});
// ---------- H ----------
{const x=d3.scaleLinear([-34,40],[24.8,98]),y=d3.scaleLinear([-30,20],[517.3,458.3]);
 axes(x,y,[-20,0,20],[-30,-20,-10,0,10,20],false,3.5);
 [[H_3,G],[H_2,P],[H_1,O]].forEach(s=>squares(pairs(s[0]),x,y,s[1],1.6));
 txt(58.5,532.5,"t-SNE 1",4.8,{anchor:"middle",fill:"#333"});txt(13,484,"t-SNE 2",4.8,{anchor:"middle",rot:-90,fill:"#333"});
 txt(97,480,"Cluster",4.8,{fill:"#333"});swatches(97,[484.3,491,497.3],[O,P,G],["1","2","3"],4.8,6,8.5);
 const mxS=d3.scaleLinear([-50,50],[186.4,253.6]), myS=d3.scaleLinear([-50,50],[532,448.8]);
 const miniX=dx=>v=>mxS(v)+dx, miniY=dy=>v=>myS(v)+dy;
 const mini=(title,tx,ty,dx,dy,every)=>{txt(tx,ty,title,7.8,{anchor:"middle"});
   E_sets.forEach(s=>{const n=every[s[0]],pts=pairs(s[1]);
     const cg=pts.map((d,j)=>({d,red:n>0&&Math.floor(j%n)===0}));
     squares(pts,miniX(dx),miniY(dy),p=>cg.find(o=>o.d===p).red?"#f79b83":"#c9c9c9",.85);});};
 mini("E130114P18Rik",218,460.5,0,0,rikEvery);mini("Sema3c",101,548.5,-119,86,sema3cEvery);mini("Lrfn5",220,548.5,0,86,lrfn5Every);}
// ---------- I ----------
{const x=d3.scaleLinear([-49.7,47.1],[15.3,116]),y=d3.scaleLinear([-27,39.3],[740,640]);
 txt(66,640,"NBN scRNA-Seq",8,{anchor:"middle"});
 axes(x,y,[-25,0,25],[-20,0,20]);
 [[I_g,"g"],[I_i,"i"],[I_p,"p"]].forEach(s=>squares(pairs(s[0]),x,y,ageCol[s[1]],1.4));
 txt(67.5,752.5,"PC1: 6% variance",6.2,{anchor:"middle",fill:"#333"});
 txt(5.5,687,"PC2: 3% variance",6.2,{anchor:"middle",rot:-90,fill:"#333"});
 ageLegend(115,700,6.85,["g","i","p"],{tx:8,size:4.8});
 txt(114.5,723.5,"Cell Type",4.8,{fill:"#333"});tris([[0,0]],()=>117.5,()=>729.5,"#000",20);txt(122,730.5,"sc",4.5,{fill:"#333"});}
// ---------- J ----------
{const x=d3.scaleLinear([-32,40],[159,258.7]),y=d3.scaleLinear([-26.8,17.9],[740,640]);
 txt(220,640,"NBN scRNA-Seq v's Population",8,{anchor:"middle"});
 axes(x,y,[-20,0,20,40],[-20,-10,0,10]);
 Object.keys(J_tri).forEach(k=>tris(pairs(J_tri[k]),x,y,ageCol[k],17));
 Object.keys(J_sq).forEach(k=>squares(pairs(J_sq[k]),x,y,ageCol[k],4.4,{stroke:k==="g"?"#999":"#eee",sw:.5}));
 txt(215,752.5,"PC1 Population",6.2,{anchor:"middle",fill:"#333"});
 txt(146,682,"PC2 Population",6.2,{anchor:"middle",rot:-90,fill:"#333"});
 ageLegend(260.7,686.7,6.8,["f","g","h","i","p"],{tx:8,size:4.8,w:5.6});
 txt(260,723.5,"Cell Type",4.5,{fill:"#333"});squares([[0,0]],()=>263.5,()=>728.3,"#000",4.6);txt(268,730,"Popul.",4.5,{fill:"#333"});
 svg.append("rect").attr("x",261.2).attr("y",733).attr("width",4.6).attr("height",4.6).attr("fill","#fff").attr("stroke","#999").attr("stroke-width",.5);txt(268,737,"sc Ave",4.5,{fill:"#333"});}
// ---------- K ----------
heatmap({cols:K_cols,rows:K_rows,vals:K_vals,x0:321,x1:530.7,y0:675.7,y1:820.3,topCl:[665.7,4],topAge:[671,4],colCl:K_colCl,rowCl:K_rowCl,colAge:K_colAge,rowAge:K_rowAge,
 topD:K_topD,leftD:K_leftD,topH:645.7,leftH:291.5,barB:731.7,pies:K_pies,pieX:[385.7,494.3],pieY:842.3,cap:"NBM clusters",capX:431,capY:876.5,title:"NBM single cell k-means clustering",titleX:433,titleY:640});
txt(533,743.5,"Cluster",4.8,{fill:"#333"});swatches(533,[747.3,754],[G,O],["1","2"],4.8,6,8);
ageLegend(533,777.7,6.7,["g","i","p"],{tx:8,size:4.8});
// ---------- L ----------
{const groups=[L_1,L_2].map(pairs),cols=[G,O];
 const x=d3.scaleLinear([-9,10],[18,89]),y=d3.scaleLinear([-5,5],[821.7,780.7]);
 axes(x,y,[-5,0,5,10],[-5,0,5],false,11.5);
 groups.forEach((g,i)=>squares(g,x,y,cols[i],1.6));
 txt(51.5,844,"t-SNE 1",4.8,{anchor:"middle",fill:"#333"});txt(9,801,"t-SNE 2",4.8,{anchor:"middle",rot:-90,fill:"#333"});
 txt(99,789,"Cluster",4.8,{fill:"#333"});swatches(99,[794,800],cols,["1","2"],4.8,6,8);
 const mini=(title,tx,dx,every)=>{txt(tx,764.5,title,7.8,{anchor:"middle"});
   groups.forEach((g,i)=>{const n=every[i];const cg=g.map((d,j)=>({d,red:Math.floor(j%n)===0}));
     squares(g,v=>x(v)+dx,y,p=>cg.find(o=>o.d===p).red?"#f15a3c":"#b8b8b8",1.2);});};
 mini("Plk2",160.7,107.3,plk2Every);mini("Tcf7l1",253,200.7,tcf7l1Every);}
</script></body></html>
